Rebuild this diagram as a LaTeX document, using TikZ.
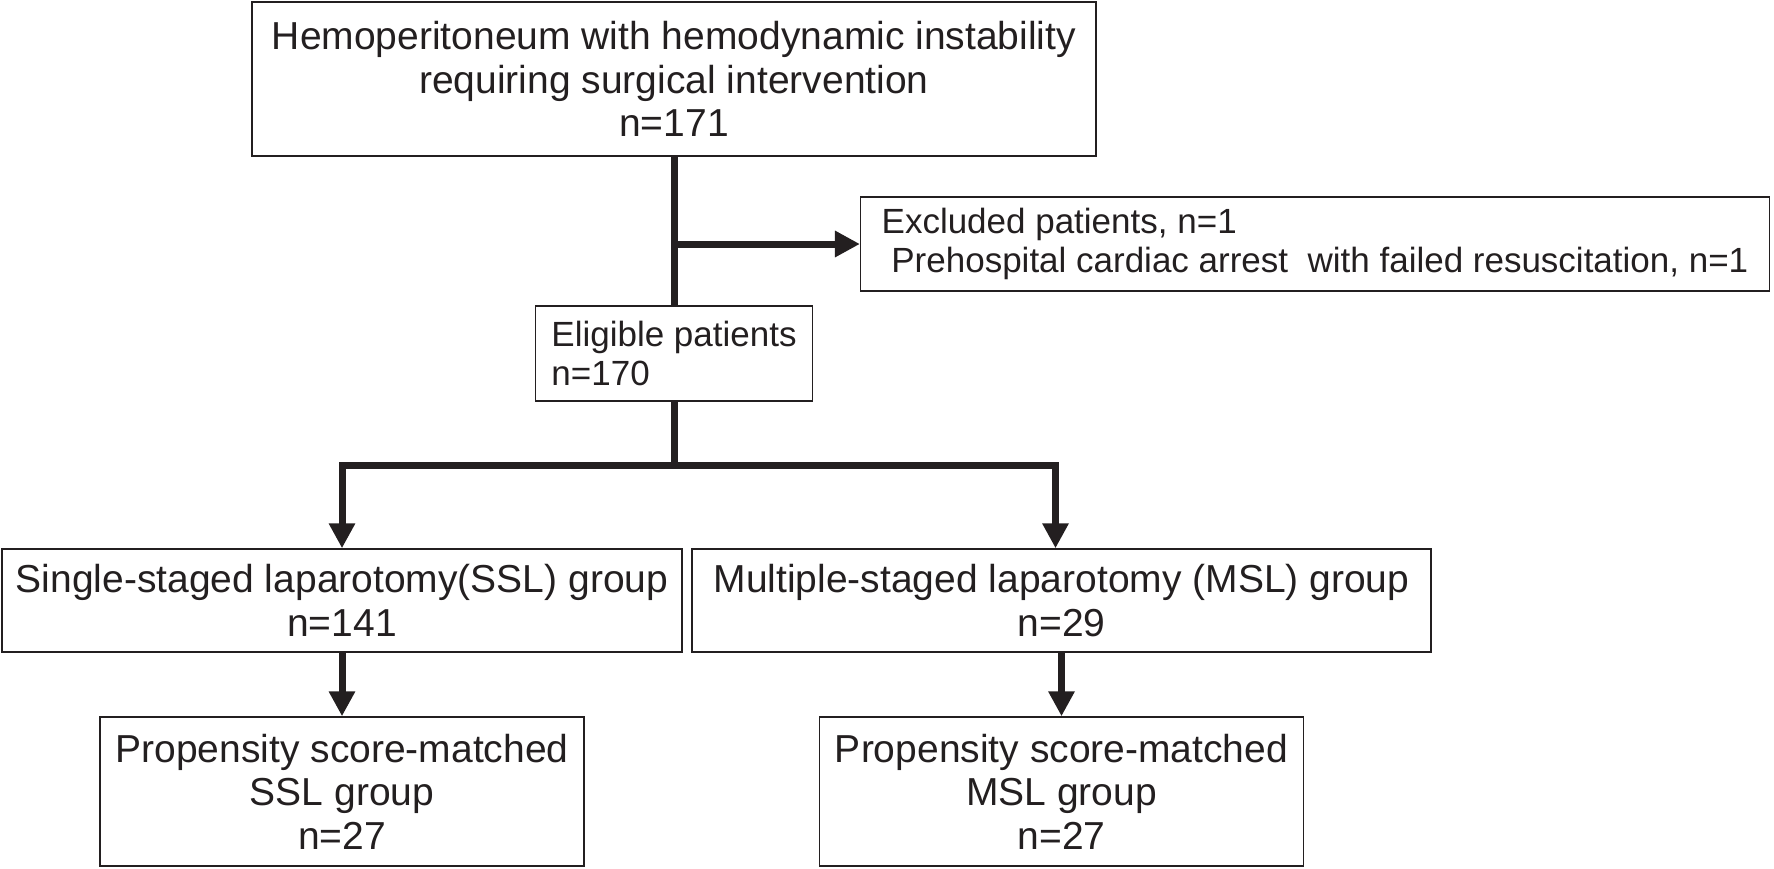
\documentclass[tikz,border=0pt]{standalone}
\usepackage{fontspec}
\setmainfont{Liberation Sans}
\usetikzlibrary{arrows.meta}
\definecolor{ink}{RGB}{35,31,32}
\tikzset{box/.style={draw=ink,text=ink,line width=1.5pt,inner sep=0pt,align=center,
  font=\fontsize{39}{43.6}\selectfont},
  lbox/.style={box,align=left,inner xsep=16pt,font=\fontsize{35}{39.6}\selectfont},
  link/.style={draw=ink,line width=7pt},
  arr/.style={link,-{Triangle[length=25pt,width=25pt]}}}
\begin{document}
\begin{tikzpicture}[x=1pt,y=-1pt]
\useasboundingbox(0,0)rectangle(1774,868);
\node[box,minimum width=844pt,minimum height=154pt](top)at(674,79)
{Hemoperitoneum with hemodynamic instability\\requiring surgical intervention\\n=171};
\node[lbox,inner xsep=21pt,minimum height=94pt](excl)at(1315,244)
{Excluded patients, n=1\\\ Prehospital cardiac arrest\ \ with failed resuscitation, n=1};
\node[lbox,minimum height=95pt](elig)at(674,353.5){Eligible patients\\n=170};
\node[box,minimum width=680pt,minimum height=103pt](ssl)at(342,600.5)
{Single-staged laparotomy(SSL) group\\n=141};
\node[box,minimum width=739pt,minimum height=103pt](msl)at(1061.5,600.5)
{Multiple-staged laparotomy (MSL) group\\n=29};
\node[box,minimum width=484pt,minimum height=149pt](pssl)at(342,791.5)
{Propensity score-matched\\SSL group\\n=27};
\node[box,minimum width=484pt,minimum height=149pt](pmsl)at(1061.5,791.5)
{Propensity score-matched\\MSL group\\n=27};
\coordinate(fork)at(674,465);
\draw[link](top.south)--(elig.north);
\draw[arr](top.south|-excl.west)--(excl.west);
\draw[link](elig.south)--(fork);
\draw[arr](fork)-|(ssl.north);
\draw[arr](fork)-|([xshift=-6pt]msl.north);
\draw[arr](ssl)--(pssl);
\draw[arr](msl)--(pmsl);
\end{tikzpicture}
\end{document}
